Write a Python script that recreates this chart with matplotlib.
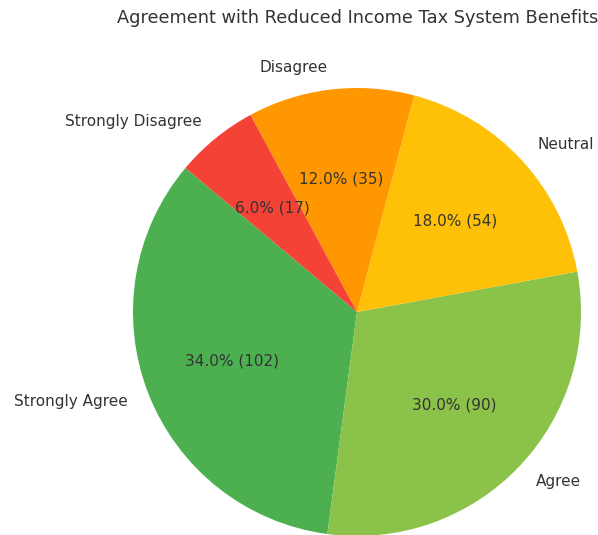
import matplotlib.pyplot as plt

# survey responses
labels = ['Strongly Agree', 'Agree', 'Neutral', 'Disagree', 'Strongly Disagree']
percents = [34.0, 30.0, 18.0, 12.0, 6.0]
counts = [102, 90, 54, 35, 17]
colors = ['#4CAF50', '#8BC34A', '#FFC107', '#FF9800', '#F44336']

fig = plt.figure(figsize=(5.98, 5.35), dpi=100)
ax = fig.add_axes([133 / 598, (535 - 536) / 535, 448 / 598, 448 / 535])

pct_iter = iter(range(len(percents)))


def fmt(p):
    i = next(pct_iter)
    return '{:.1f}% ({})'.format(percents[i], counts[i])


wedges, texts, autotexts = ax.pie(percents, labels=labels, colors=colors,
                                  autopct=fmt, startangle=140,
                                  textprops={'fontsize': 11, 'color': '#333333'})
ax.set_xlim(-1, 1)
ax.set_ylim(-1, 1)
ax.set_aspect('equal')

fig.text(357.5 / 598, 1 - 18 / 535, 'Agreement with Reduced Income Tax System Benefits',
         ha='center', va='center', fontsize=12.8, color='#333333')

plt.savefig('out.png', dpi=100)
